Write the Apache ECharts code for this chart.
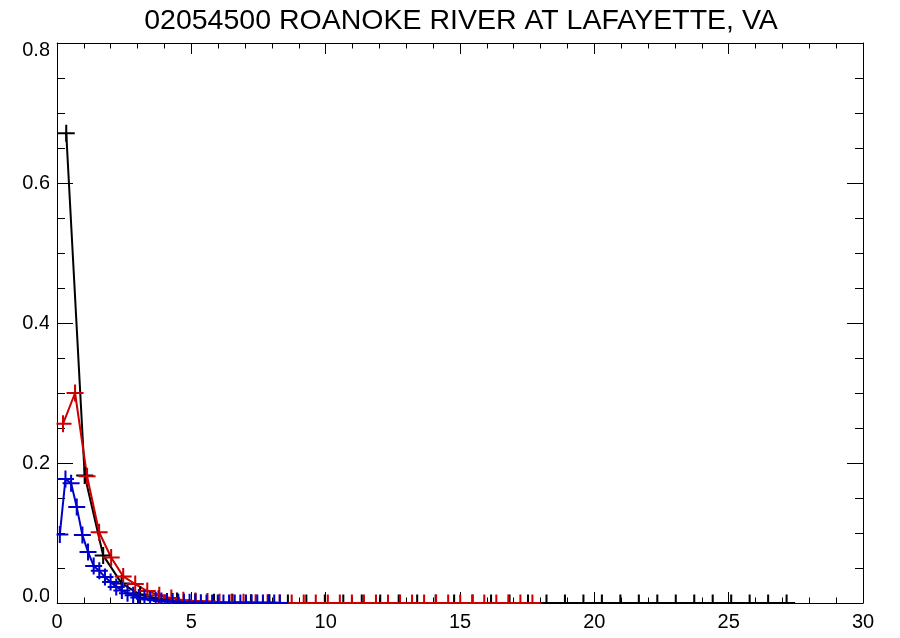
<!DOCTYPE html>
<html>
<head>
<meta charset="utf-8">
<script src="https://cdn.jsdelivr.net/npm/echarts@6/dist/echarts.min.js"></script>
<style>
  html, body { margin: 0; padding: 0; background: #fff; }
  #chart { width: 900px; height: 638px; }
</style>
</head>
<body>
<div id="chart"></div>
<script>
// Station title
const titleText = '02054500 ROANOKE RIVER AT LAFAYETTE, VA';

// Axis ranges and tick spacing
const xRange = [0, 30];
const yRange = [0, 0.8];
const xStep = 5;
const yStep = 0.2;

// Black curve: bin centres and frequencies
const blackX = [0.344, 1.031, 1.719, 2.406, 3.094, 3.781, 4.469, 5.156, 5.844, 6.531,
  7.219, 7.906, 8.594, 9.281, 9.969, 10.656, 11.344, 12.031, 12.719, 13.406,
  14.094, 14.781, 15.469, 16.156, 16.844, 17.531, 18.219, 18.906, 19.594, 20.281,
  20.969, 21.656, 22.344, 23.031, 23.719, 24.406, 25.094, 25.781, 26.469, 27.156];
const blackY = [0.671, 0.182, 0.068, 0.028, 0.012, 0.006, 0.003, 0.002, 0.001, 0.001,
  0.0005, 0.0005, 0, 0, 0, 0, 0, 0, 0, 0,
  0, 0, 0, 0, 0, 0, 0, 0, 0, 0,
  0, 0, 0, 0, 0, 0, 0, 0, 0, 0];

// Red curve
const redX = [0.224, 0.672, 1.120, 1.568, 2.016, 2.464, 2.912, 3.360, 3.808, 4.256,
  4.704, 5.152, 5.600, 6.048, 6.496, 6.944, 7.392, 7.840, 8.288, 8.736,
  9.184, 9.632, 10.080, 10.528, 10.976, 11.424, 11.872, 12.320, 12.768, 13.216,
  13.664, 14.112, 14.560, 15.008, 15.456, 15.904, 16.352, 16.800, 17.248, 17.696];
const redY = [0.256, 0.300, 0.181, 0.101, 0.065, 0.038, 0.027, 0.017, 0.011, 0.007,
  0.004, 0.003, 0.002, 0.001, 0.001, 0.001, 0.0005, 0.0005, 0, 0,
  0, 0, 0, 0, 0, 0, 0, 0, 0, 0,
  0, 0, 0, 0, 0, 0, 0, 0, 0, 0];

// Blue curve
const blueX = [0.105, 0.315, 0.525, 0.735, 0.945, 1.155, 1.365, 1.575, 1.785, 1.995,
  2.205, 2.415, 2.625, 2.835, 3.045, 3.255, 3.465, 3.675, 3.885, 4.095,
  4.305, 4.515, 4.725, 4.935, 5.145, 5.355, 5.565, 5.775, 5.985, 6.195,
  6.405, 6.615, 6.825, 7.035, 7.245, 7.455, 7.665, 7.875, 8.085, 8.295];
const blueY = [0.098, 0.177, 0.171, 0.137, 0.097, 0.073, 0.053, 0.046, 0.037, 0.030,
  0.023, 0.018, 0.014, 0.011, 0.008, 0.006, 0.005, 0.004, 0.003, 0.002,
  0.002, 0.001, 0.001, 0.001, 0.0005, 0.0005, 0, 0, 0, 0,
  0, 0, 0, 0, 0, 0, 0, 0, 0, 0];

const pairs = (xs, ys) => xs.map((x, i) => [x, ys[i]]);

// Plot frame
const grid = { left: 57, top: 43, right: 37, bottom: 35 };
const W = 900, H = 638;
const FONT = "'Liberation Sans', Arial, Helvetica, sans-serif";

// "+" marker as a filled cross
const plusSymbol = 'path://M0,8.8L20,8.8L20,11.2L0,11.2Z M8.8,0L11.2,0L11.2,20L8.8,20Z';

function curve(name, data, color) {
  return {
    name, type: 'line', data,
    xAxisIndex: 0, yAxisIndex: 0,
    symbol: plusSymbol, symbolSize: 17,
    showAllSymbol: true,
    lineStyle: { color, width: 2 },
    itemStyle: { color, borderWidth: 0 },
    emphasis: { disabled: true },
    z: 2
  };
}

function xAxisDef(pos, showLabels) {
  return {
    type: 'value', position: pos, min: xRange[0], max: xRange[1], interval: xStep,
    axisLine: { show: true, onZero: false, lineStyle: { color: '#000', width: 1 } },
    axisTick: { show: true, inside: true, length: 11, lineStyle: { color: '#000' } },
    minorTick: { show: true, splitNumber: 5, length: 5.5, lineStyle: { color: '#000' } },
    splitLine: { show: false },
    axisLabel: { show: showLabels, color: '#000', fontSize: 20, fontFamily: FONT, margin: 9 }
  };
}

function yAxisDef(pos, showLabels) {
  return {
    type: 'value', position: pos, min: yRange[0], max: yRange[1], interval: yStep,
    axisLine: { show: true, onZero: false, lineStyle: { color: '#000', width: 1 } },
    axisTick: { show: true, inside: true, length: 16, lineStyle: { color: '#000' } },
    minorTick: { show: true, splitNumber: 4, length: 8, lineStyle: { color: '#000' } },
    splitLine: { show: false },
    axisLabel: {
      show: showLabels, color: '#000', fontSize: 20, fontFamily: FONT, margin: 7,
      lineHeight: 14,
      verticalAlignMinLabel: 'bottom',
      verticalAlignMaxLabel: 'top',
      formatter: v => v.toFixed(1)
    }
  };
}

const chart = echarts.init(document.getElementById('chart'), null, { renderer: 'canvas' });

const plotL = grid.left, plotR = W - grid.right, plotB = H - grid.bottom;

chart.setOption({
  animation: false,
  backgroundColor: '#fff',
  title: {
    text: titleText, left: 456, top: 2, textAlign: 'center',
    textStyle: { color: '#000', fontSize: 28.5, fontWeight: 'normal', fontFamily: FONT }
  },
  grid: Object.assign({ containLabel: false }, grid),
  xAxis: [xAxisDef('bottom', true), xAxisDef('top', false)],
  yAxis: [yAxisDef('left', true), yAxisDef('right', false)],
  series: [
    curve('black', pairs(blackX, blackY), '#000000'),
    curve('red', pairs(redX, redY), '#cc0000'),
    curve('blue', pairs(blueX, blueY), '#0000cc')
  ],
  // markers are cut off at the frame edges
  graphic: [
    { type: 'rect', z: 50, silent: true,
      shape: { x: plotL - 8, y: grid.top, width: 7.5, height: plotB - grid.top + 10 },
      style: { fill: '#fff' } },
    { type: 'rect', z: 50, silent: true,
      shape: { x: plotL - 8, y: plotB + 1, width: plotR - plotL + 16, height: 8 },
      style: { fill: '#fff' } }
  ]
});
</script>
</body>
</html>
